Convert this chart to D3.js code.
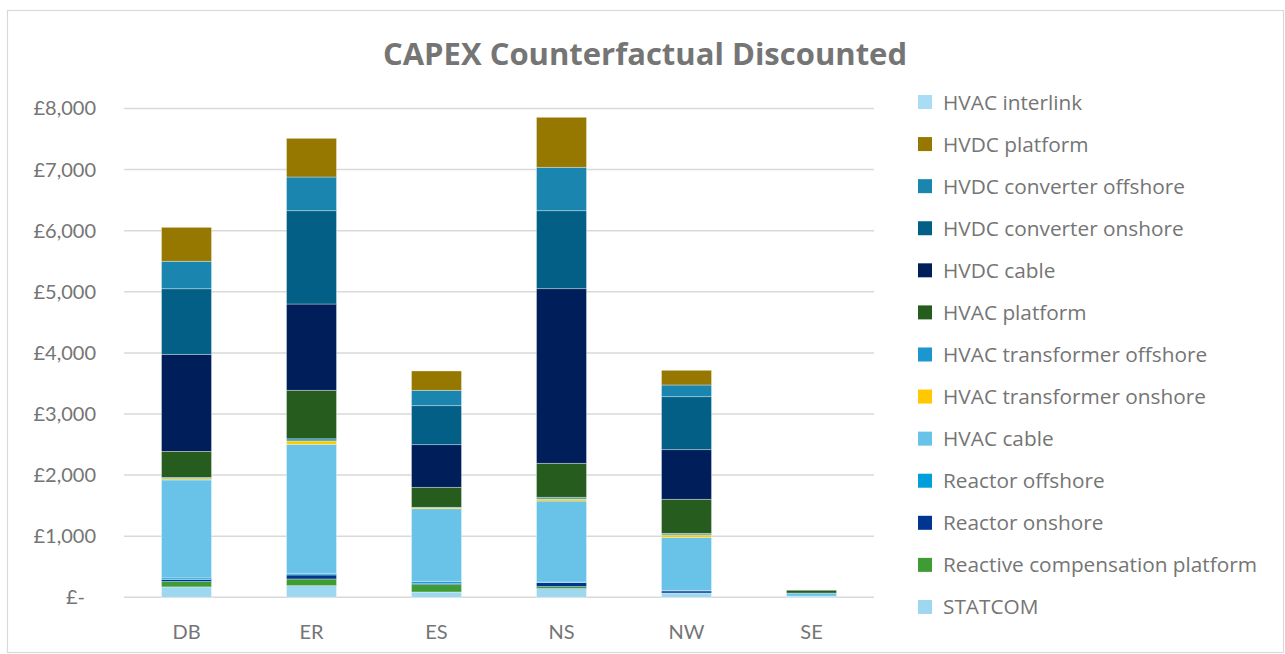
<!DOCTYPE html>
<html>
<head>
<meta charset="utf-8">
<script src="https://cdn.jsdelivr.net/npm/d3@7"></script>
<style>
  body { margin: 0; background: #fff; }
</style>
</head>
<body>
<svg id="chart" width="1285" height="654"></svg>
<script>
// Regions along the x axis
const regions = ["DB", "ER", "ES", "NS", "NW", "SE"];

// Series, bottom of the stack first
const seriesNames = [
  "STATCOM", "Reactive compensation platform", "Reactor onshore", "Reactor offshore",
  "HVAC cable", "HVAC transformer onshore", "HVAC transformer offshore", "HVAC platform",
  "HVDC cable", "HVDC converter onshore", "HVDC converter offshore", "HVDC platform",
  "HVAC interlink"
];
const seriesColors = [
  "#9dd7f0", "#3f9c35", "#003591", "#009fdc",
  "#69c3e8", "#ffc800", "#1c96ce", "#275c1f",
  "#001f5a", "#035f85", "#1a86b0", "#967800",
  "#a9ddf3"
];

// Values (£m) per series, in the order of regions
const statcom        = [170, 190,   87,  142,  71, 20];
const reactiveComp   = [ 87, 110,  120,   33,   0,  0];
const reactorOn      = [ 33,  65,   22,   65,  33,  0];
const reactorOff     = [ 27,  20,   33,   10,   5,  0];
const hvacCable      = [1604, 2119, 1188, 1326, 873, 50];
const hvacTrOn       = [ 22,  55,   18,   33,  40,  0];
const hvacTrOff      = [ 20,  35,    5,   28,  25,  0];
const hvacPlatform   = [425, 794,  327,  556, 557, 45];
const hvdcCable      = [1589, 1412, 698, 2858, 812,  0];
const hvdcConvOn     = [1073, 1527, 638, 1276, 867,  0];
const hvdcConvOff    = [450, 552,  252,  711, 192,  0];
const hvdcPlatform   = [555, 633,  316,  818, 240,  0];
const hvacInterlink  = [  0,   0,    0,    0,   0,  0];

const yTicks = [0, 1000, 2000, 3000, 4000, 5000, 6000, 7000, 8000];

const seriesValues = [statcom, reactiveComp, reactorOn, reactorOff, hvacCable, hvacTrOn,
  hvacTrOff, hvacPlatform, hvdcCable, hvdcConvOn, hvdcConvOff, hvdcPlatform, hvacInterlink];

// Build table rows for d3.stack
const table = regions.map((r, i) => {
  const row = {region: r};
  seriesNames.forEach((s, j) => { row[s] = seriesValues[j][i]; });
  return row;
});

const svg = d3.select("#chart");
const grey = "#757575";

// Chart area border
svg.append("rect")
  .attr("x", 7.5).attr("y", 10.5)
  .attr("width", 1276).attr("height", 642)
  .attr("fill", "none").attr("stroke", "#d9d9d9").attr("stroke-width", 1.2);

const x = d3.scaleBand().domain(regions).range([124, 874]).paddingInner(0.6).paddingOuter(0.3);
const y = d3.scaleLinear().domain([0, 8000]).range([597.3, 108.5]);

// Gridlines
svg.append("g")
  .selectAll("line")
  .data(yTicks)
  .join("line")
  .attr("x1", 124).attr("x2", 874)
  .attr("y1", d => y(d)).attr("y2", d => y(d))
  .attr("stroke", "#d9d9d9").attr("stroke-width", 1.5);

// Y axis labels
const yAxis = svg.append("g")
  .attr("transform", "translate(96,0)")
  .call(d3.axisLeft(y).tickValues(yTicks).tickSize(0).tickPadding(0)
    .tickFormat(d => d === 0 ? "£-" : "£" + d3.format(",")(d)));
yAxis.select(".domain").remove();
yAxis.selectAll("text")
  .style("font-size", "20px")
  .style("font-family", "Lato, sans-serif")
  .style("fill", grey)
  .attr("dx", d => d === 0 ? -11 : 0);

// X axis labels
const xAxis = svg.append("g")
  .attr("transform", "translate(0,597)")
  .call(d3.axisBottom(x).tickSize(0).tickPadding(28));
xAxis.select(".domain").remove();
xAxis.selectAll("text")
  .style("font-size", "20px")
  .style("font-family", "Lato, sans-serif")
  .style("fill", grey);

// Stacked bars
const stacked = d3.stack().keys(seriesNames)(table);
svg.append("g")
  .selectAll("g")
  .data(stacked)
  .join("g")
  .attr("fill", (d, i) => seriesColors[i])
  .selectAll("rect")
  .data(d => d.filter(p => p[1] - p[0] > 0))
  .join("rect")
  .attr("x", d => x(d.data.region))
  .attr("width", x.bandwidth())
  .attr("y", d => y(d[1]))
  .attr("height", d => y(d[0]) - y(d[1]))
  .attr("stroke", "rgba(255,255,255,0.45)")
  .attr("stroke-width", 0.75);

// Title
svg.append("text")
  .attr("x", 645).attr("y", 65)
  .attr("text-anchor", "middle")
  .style("font-size", "31px")
  .style("font-family", "'Open Sans', sans-serif")
  .style("font-weight", "bold")
  .style("fill", grey)
  .text("CAPEX Counterfactual Discounted");

// Legend, top of the stack first
const legendItems = seriesNames.map((s, i) => ({name: s, color: seriesColors[i]})).reverse();
const legend = svg.append("g")
  .selectAll("g")
  .data(legendItems)
  .join("g")
  .attr("transform", (d, i) => `translate(918,${102 + i * 42.08})`);
legend.append("rect")
  .attr("x", 0).attr("y", -7)
  .attr("width", 14).attr("height", 14)
  .attr("fill", d => d.color);
legend.append("text")
  .attr("x", 25).attr("y", 7.5)
  .style("font-size", "20.8px")
  .style("font-family", "'Open Sans', sans-serif")
  .style("fill", grey)
  .text(d => d.name);
</script>
</body>
</html>
